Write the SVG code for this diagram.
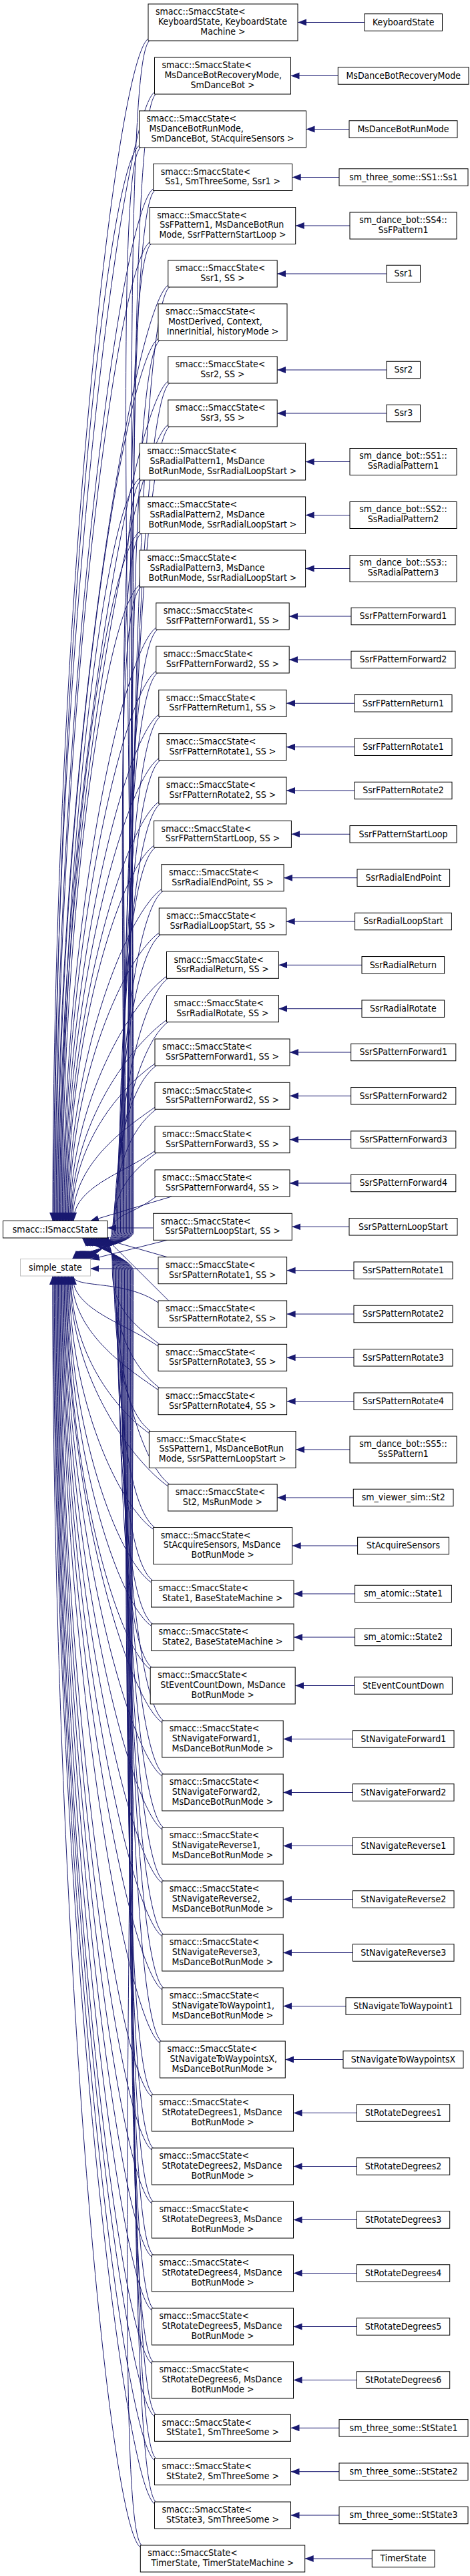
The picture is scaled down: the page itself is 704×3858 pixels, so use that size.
<svg xmlns="http://www.w3.org/2000/svg" width="704" height="3858" viewBox="0 0 704 3858">
<defs>
<style>
rect{fill:#fff;stroke:#000;stroke-width:1}
#simple_state rect{stroke:#bfbfbf}
text{font-family:"DejaVu Sans Condensed","DejaVu Sans",sans-serif;font-size:14px;fill:#000}
.m{text-anchor:middle}
#edges path{fill:none;stroke:#191970;stroke-width:1;marker-end:url(#a)}
</style>
<marker id="a" markerUnits="userSpaceOnUse" markerWidth="14" markerHeight="11" viewBox="0 0 14 11" refX="13" refY="5" orient="auto"><path d="M0,0L13,5L0,10z" fill="#191970"/></marker>
</defs>
<rect x="0" y="0" width="704" height="3858" style="fill:#fff;stroke:none"/>
<g id="edges">
<path d="M546,33.5H446"/><path d="M506.3,113.5H435.5"/><path d="M523,193.5H458.5"/><path d="M508,265.5H437.7"/><path d="M524,338H442.7"/><path d="M579,410H415.2"/><path d="M579,554H415.2"/><path d="M579,619H415.2"/><path d="M524,691.5H457.6"/><path d="M524,771.5H457.6"/><path d="M524,851.5H457.6"/><path d="M526,923H433.2"/><path d="M526,988H433.2"/><path d="M531,1053.3H429"/><path d="M531,1118.7H429"/><path d="M531,1184H429"/><path d="M524,1249.3H436.4"/><path d="M535,1314.7H425.1"/><path d="M531.6,1380H428.7"/><path d="M542,1445.3H417.4"/><path d="M542,1510.7H417.4"/><path d="M525.7,1576H434"/><path d="M525.7,1641.3H434"/><path d="M525.7,1706.7H434"/><path d="M525.7,1772H434"/><path d="M523,1837.3H437.3"/><path d="M530,1902.7H429.6"/><path d="M530,1968H429.6"/><path d="M530,2033.3H429.6"/><path d="M530,2098.7H429.6"/><path d="M524,2171H443"/><path d="M529.3,2243H415.2"/><path d="M535.6,2315H437.7"/><path d="M531.6,2387H440"/><path d="M531.6,2452H440"/><path d="M531,2524.5H442.2"/><path d="M528.4,2604.5H424.2"/><path d="M528.4,2684.5H424.2"/><path d="M528.4,2764.5H424.2"/><path d="M528.4,2844.5H424.2"/><path d="M528.4,2924.5H424.2"/><path d="M518,3004.5H424.2"/><path d="M514,3084.5H427.3"/><path d="M534.3,3164.5H439.5"/><path d="M534.3,3244.5H439.5"/><path d="M534.3,3324.5H439.5"/><path d="M534.3,3404.5H439.5"/><path d="M534.3,3484.5H439.5"/><path d="M534.3,3564.5H439.5"/><path d="M508,3636.3H435.5"/><path d="M508,3701.7H435.5"/><path d="M508,3767H435.5"/><path d="M557.3,3832H456.7"/>
<path d="M222,58C172,93 79,945 79,1828.7"/>
<path d="M231.5,138C181.5,173 80.3,985 80.3,1828.7"/>
<path d="M208.5,218C158.5,253 81.6,1025 81.6,1828.7"/>
<path d="M229.7,282.5C179.7,317.5 82.9,1057 82.9,1828.7"/>
<path d="M224.3,362.5C174.3,397.5 84.2,1097 84.2,1828.7"/>
<path d="M251.8,427C201.8,462 85.5,1129 85.5,1828.7"/>
<path d="M237,507C187,542 86.8,1169 86.8,1828.7"/>
<path d="M251.8,571C201.8,606 88.1,1201 88.1,1828.7"/>
<path d="M251.8,636C201.8,671 89.4,1234 89.4,1828.7"/>
<path d="M209.4,716C159.4,751 90.7,1274 90.7,1828.7"/>
<path d="M209.4,796C159.4,831 92,1314 92,1828.7"/>
<path d="M209.4,876C159.4,911 93.3,1354 93.3,1828.7"/>
<path d="M233.8,940C183.8,975 94.6,1386 94.6,1828.7"/>
<path d="M233.8,1005C183.8,1040 95.9,1418 95.9,1828.7"/>
<path d="M237.8,1070.3C187.8,1105.3 97.2,1451 97.2,1828.7"/>
<path d="M237.8,1135.7C187.8,1170.7 98.5,1484 98.5,1828.7"/>
<path d="M237.8,1201C187.8,1236 99.8,1516 99.8,1828.7"/>
<path d="M230.6,1266.3C180.6,1301.3 101.1,1549 101.1,1828.7"/>
<path d="M241.9,1331.7C191.9,1366.7 102.4,1582 102.4,1828.7"/>
<path d="M238.3,1397C188.3,1432 103.7,1614 103.7,1828.7"/>
<path d="M249.5,1462.3C199.5,1497.3 105,1647 105,1828.7"/>
<path d="M249.5,1527.7C199.5,1562.7 106.3,1680 106.3,1828.7"/>
<path d="M232,1593C182,1628 107.6,1712 107.6,1828.7"/>
<path d="M232,1658.3C182,1693.3 108.9,1745 108.9,1828.7"/>
<path d="M232,1723.7C182,1758.7 110.2,1778 110.2,1828.7"/>
<path d="M257,1792L135,1828.7"/>
<path d="M224,61C184,91 200,953 200,1845C200,1863 120,1874 108,1885.7"/>
<path d="M233.5,141C193.5,171 198.7,993 198.7,1845C198.7,1863 121.1,1874 109.1,1885.7"/>
<path d="M210.5,221C170.5,251 197.4,1033 197.4,1845C197.4,1863 122.1,1874 110.1,1885.7"/>
<path d="M231.7,285.5C191.7,315.5 196.1,1065 196.1,1845C196.1,1863 123.2,1874 111.2,1885.7"/>
<path d="M226.3,365.5C186.3,395.5 194.8,1105 194.8,1845C194.8,1863 124.2,1874 112.2,1885.7"/>
<path d="M253.8,430C213.8,460 193.5,1138 193.5,1845C193.5,1863 125.3,1874 113.3,1885.7"/>
<path d="M239,510C199,540 192.2,1178 192.2,1845C192.2,1863 126.3,1874 114.3,1885.7"/>
<path d="M253.8,574C213.8,604 190.9,1210 190.9,1845C190.9,1863 127.4,1874 115.4,1885.7"/>
<path d="M253.8,639C213.8,669 189.6,1242 189.6,1845C189.6,1863 128.4,1874 116.4,1885.7"/>
<path d="M211.4,719C171.4,749 188.3,1282 188.3,1845C188.3,1863 129.5,1874 117.5,1885.7"/>
<path d="M211.4,799C171.4,829 187,1322 187,1845C187,1863 130.5,1874 118.5,1885.7"/>
<path d="M211.4,879C171.4,909 185.7,1362 185.7,1845C185.7,1863 131.6,1874 119.6,1885.7"/>
<path d="M235.8,943C195.8,973 184.4,1394 184.4,1845C184.4,1863 132.6,1874 120.6,1885.7"/>
<path d="M235.8,1008C195.8,1038 183.1,1427 183.1,1845C183.1,1863 133.7,1874 121.7,1885.7"/>
<path d="M239.8,1073.3C199.8,1103.3 181.8,1459 181.8,1845C181.8,1863 134.7,1874 122.7,1885.7"/>
<path d="M239.8,1138.7C199.8,1168.7 180.5,1492 180.5,1845C180.5,1863 135.8,1874 123.8,1885.7"/>
<path d="M239.8,1204C199.8,1234 179.2,1525 179.2,1845C179.2,1863 136.8,1874 124.8,1885.7"/>
<path d="M232.6,1269.3C192.6,1299.3 177.9,1557 177.9,1845C177.9,1863 137.9,1874 125.9,1885.7"/>
<path d="M243.9,1334.7C203.9,1364.7 176.6,1590 176.6,1845C176.6,1863 138.9,1874 126.9,1885.7"/>
<path d="M240.3,1400C200.3,1430 175.3,1623 175.3,1845C175.3,1863 140,1874 128,1885.7"/>
<path d="M251.5,1465.3C211.5,1495.3 174,1655 174,1845C174,1863 141,1874 129,1885.7"/>
<path d="M251.5,1530.7C211.5,1560.7 172.7,1688 172.7,1845C172.7,1863 142.1,1874 130.1,1885.7"/>
<path d="M234,1596C194,1626 171.4,1721 171.4,1845C171.4,1863 143.1,1874 131.1,1885.7"/>
<path d="M234,1661.3C194,1691.3 170.1,1753 170.1,1845C170.1,1863 144.2,1874 132.2,1885.7"/>
<path d="M234,1726.7C194,1756.7 168.8,1786 168.8,1845C168.8,1863 145.2,1874 133.2,1885.7"/>
<path d="M234,1792C194,1822 167.5,1818 167.5,1845C167.5,1863 146.3,1874 134.3,1885.7"/>
<path d="M229.7,1839H161"/>
<path d="M250.5,1857.3L136,1886"/>
<path d="M250.5,1882.7L150,1854"/>
<path d="M237,1900H135.4"/>
<path d="M237,1951C187,1916 110,1930 110,1911.3"/>
<path d="M237,2016.3C187,1981.3 108.8,1962 108.8,1911.3"/>
<path d="M237,2081.7C187,2046.7 107.5,1995 107.5,1911.3"/>
<path d="M223.4,2146.5C173.4,2111.5 106.3,2027 106.3,1911.3"/>
<path d="M251.8,2226C201.8,2191 105,2067 105,1911.3"/>
<path d="M229.7,2290.5C179.7,2255.5 103.8,2099 103.8,1911.3"/>
<path d="M226.5,2370C176.5,2335 102.5,2139 102.5,1911.3"/>
<path d="M226.5,2435C176.5,2400 101.3,2172 101.3,1911.3"/>
<path d="M225.2,2500C175.2,2465 100,2204 100,1911.3"/>
<path d="M242.8,2580C192.8,2545 98.8,2244 98.8,1911.3"/>
<path d="M242.8,2660C192.8,2625 97.5,2284 97.5,1911.3"/>
<path d="M242.8,2740C192.8,2705 96.3,2324 96.3,1911.3"/>
<path d="M242.8,2820C192.8,2785 95,2364 95,1911.3"/>
<path d="M242.8,2900C192.8,2865 93.8,2404 93.8,1911.3"/>
<path d="M242.8,2980C192.8,2945 92.5,2444 92.5,1911.3"/>
<path d="M239.6,3060C189.6,3025 91.3,2484 91.3,1911.3"/>
<path d="M227.4,3140C177.4,3105 90,2524 90,1911.3"/>
<path d="M227.4,3220C177.4,3185 88.8,2564 88.8,1911.3"/>
<path d="M227.4,3300C177.4,3265 87.5,2604 87.5,1911.3"/>
<path d="M227.4,3380C177.4,3345 86.3,2644 86.3,1911.3"/>
<path d="M227.4,3460C177.4,3425 85,2684 85,1911.3"/>
<path d="M227.4,3540C177.4,3505 83.8,2724 83.8,1911.3"/>
<path d="M231.5,3619.3C181.5,3584.3 82.5,2764 82.5,1911.3"/>
<path d="M231.5,3684.7C181.5,3649.7 81.3,2797 81.3,1911.3"/>
<path d="M231.5,3750C181.5,3715 80,2829 80,1911.3"/>
<path d="M210.3,3815C160.3,3780 78.8,2862 78.8,1911.3"/>
<path d="M252.7,1948L158,1854"/>
<path d="M239,2013.3C199,1983.3 168.3,1958 168.3,1903C168.3,1885 168.6,1866 156.6,1854"/>
<path d="M239,2078.7C199,2048.7 169.6,1991 169.6,1903C169.6,1885 167.2,1866 155.2,1854"/>
<path d="M225.4,2143.5C185.4,2113.5 170.9,2023 170.9,1903C170.9,1885 165.8,1866 153.8,1854"/>
<path d="M253.8,2223C213.8,2193 172.2,2063 172.2,1903C172.2,1885 164.4,1866 152.4,1854"/>
<path d="M231.7,2287.5C191.7,2257.5 173.5,2095 173.5,1903C173.5,1885 163,1866 151,1854"/>
<path d="M228.5,2367C188.5,2337 174.8,2135 174.8,1903C174.8,1885 161.6,1866 149.6,1854"/>
<path d="M228.5,2432C188.5,2402 176.1,2168 176.1,1903C176.1,1885 160.2,1866 148.2,1854"/>
<path d="M227.2,2497C187.2,2467 177.4,2200 177.4,1903C177.4,1885 158.8,1866 146.8,1854"/>
<path d="M244.8,2577C204.8,2547 178.7,2240 178.7,1903C178.7,1885 157.4,1866 145.4,1854"/>
<path d="M244.8,2657C204.8,2627 180,2280 180,1903C180,1885 156,1866 144,1854"/>
<path d="M244.8,2737C204.8,2707 181.3,2320 181.3,1903C181.3,1885 154.6,1866 142.6,1854"/>
<path d="M244.8,2817C204.8,2787 182.6,2360 182.6,1903C182.6,1885 153.2,1866 141.2,1854"/>
<path d="M244.8,2897C204.8,2867 183.9,2400 183.9,1903C183.9,1885 151.8,1866 139.8,1854"/>
<path d="M244.8,2977C204.8,2947 185.2,2440 185.2,1903C185.2,1885 150.4,1866 138.4,1854"/>
<path d="M241.6,3057C201.6,3027 186.5,2480 186.5,1903C186.5,1885 149,1866 137,1854"/>
<path d="M229.4,3137C189.4,3107 187.8,2520 187.8,1903C187.8,1885 147.6,1866 135.6,1854"/>
<path d="M229.4,3217C189.4,3187 189.1,2560 189.1,1903C189.1,1885 146.2,1866 134.2,1854"/>
<path d="M229.4,3297C189.4,3267 190.4,2600 190.4,1903C190.4,1885 144.8,1866 132.8,1854"/>
<path d="M229.4,3377C189.4,3347 191.7,2640 191.7,1903C191.7,1885 143.4,1866 131.4,1854"/>
<path d="M229.4,3457C189.4,3427 193,2680 193,1903C193,1885 142,1866 130,1854"/>
<path d="M229.4,3537C189.4,3507 194.3,2720 194.3,1903C194.3,1885 140.6,1866 128.6,1854"/>
<path d="M233.5,3616.3C193.5,3586.3 195.6,2760 195.6,1903C195.6,1885 139.2,1866 127.2,1854"/>
<path d="M233.5,3681.7C193.5,3651.7 196.9,2792 196.9,1903C196.9,1885 137.8,1866 125.8,1854"/>
<path d="M233.5,3747C193.5,3717 198.2,2825 198.2,1903C198.2,1885 136.4,1866 124.4,1854"/>
<path d="M212.3,3812C172.3,3782 199.5,2858 199.5,1903C199.5,1885 135,1866 123,1854"/>
</g>
<g id="isstate"><rect x="4.5" y="1828.5" width="156.5" height="25.5"/><text class="m" x="82.7" y="1845.8">smacc::ISmaccState</text></g>
<g id="simple_state"><rect x="30.5" y="1885.5" width="105" height="25.5"/><text class="m" x="83" y="1902.8">simple_state</text></g>
<g id="s1"><rect x="222" y="6" width="224" height="55"/><text x="233" y="22.2">smacc::SmaccState&lt;</text><text x="237" y="36.9">KeyboardState, KeyboardState</text><text class="m" x="334" y="51.6">Machine &gt;</text></g>
<g id="s2"><rect x="231.5" y="86" width="204" height="55"/><text x="242.5" y="102.2">smacc::SmaccState&lt;</text><text x="246.5" y="116.9">MsDanceBotRecoveryMode,</text><text class="m" x="333.5" y="131.6">SmDanceBot &gt;</text></g>
<g id="s3"><rect x="208.5" y="166" width="250" height="55"/><text x="219.5" y="182.2">smacc::SmaccState&lt;</text><text x="223.5" y="196.9">MsDanceBotRunMode,</text><text class="m" x="333.5" y="211.6">SmDanceBot, StAcquireSensors &gt;</text></g>
<g id="s4"><rect x="229.7" y="245.5" width="208" height="40"/><text x="240.7" y="261.7">smacc::SmaccState&lt;</text><text class="m" x="333.7" y="276.4">Ss1, SmThreeSome, Ssr1 &gt;</text></g>
<g id="s5"><rect x="224.3" y="310.5" width="218.4" height="55"/><text x="235.3" y="326.7">smacc::SmaccState&lt;</text><text x="239.3" y="341.4">SsFPattern1, MsDanceBotRun</text><text class="m" x="333.5" y="356.1">Mode, SsrFPatternStartLoop &gt;</text></g>
<g id="s6"><rect x="251.8" y="390" width="163.4" height="40"/><text x="262.8" y="406.2">smacc::SmaccState&lt;</text><text class="m" x="333.5" y="420.9">Ssr1, SS &gt;</text></g>
<g id="s7"><rect x="237" y="455" width="193" height="55"/><text x="248" y="471.2">smacc::SmaccState&lt;</text><text x="252" y="485.9">MostDerived, Context,</text><text class="m" x="333.5" y="500.6">InnerInitial, historyMode &gt;</text></g>
<g id="s8"><rect x="251.8" y="534" width="163.4" height="40"/><text x="262.8" y="550.2">smacc::SmaccState&lt;</text><text class="m" x="333.5" y="564.9">Ssr2, SS &gt;</text></g>
<g id="s9"><rect x="251.8" y="599" width="163.4" height="40"/><text x="262.8" y="615.2">smacc::SmaccState&lt;</text><text class="m" x="333.5" y="629.9">Ssr3, SS &gt;</text></g>
<g id="s10"><rect x="209.4" y="664" width="248.2" height="55"/><text x="220.4" y="680.2">smacc::SmaccState&lt;</text><text x="224.4" y="694.9">SsRadialPattern1, MsDance</text><text class="m" x="333.5" y="709.6">BotRunMode, SsrRadialLoopStart &gt;</text></g>
<g id="s11"><rect x="209.4" y="744" width="248.2" height="55"/><text x="220.4" y="760.2">smacc::SmaccState&lt;</text><text x="224.4" y="774.9">SsRadialPattern2, MsDance</text><text class="m" x="333.5" y="789.6">BotRunMode, SsrRadialLoopStart &gt;</text></g>
<g id="s12"><rect x="209.4" y="824" width="248.2" height="55"/><text x="220.4" y="840.2">smacc::SmaccState&lt;</text><text x="224.4" y="854.9">SsRadialPattern3, MsDance</text><text class="m" x="333.5" y="869.6">BotRunMode, SsrRadialLoopStart &gt;</text></g>
<g id="s13"><rect x="233.8" y="903" width="199.4" height="40"/><text x="244.8" y="919.2">smacc::SmaccState&lt;</text><text class="m" x="333.5" y="933.9">SsrFPatternForward1, SS &gt;</text></g>
<g id="s14"><rect x="233.8" y="968" width="199.4" height="40"/><text x="244.8" y="984.2">smacc::SmaccState&lt;</text><text class="m" x="333.5" y="998.9">SsrFPatternForward2, SS &gt;</text></g>
<g id="s15"><rect x="237.8" y="1033.3" width="191.2" height="40"/><text x="248.8" y="1049.5">smacc::SmaccState&lt;</text><text class="m" x="333.4" y="1064.2">SsrFPatternReturn1, SS &gt;</text></g>
<g id="s16"><rect x="237.8" y="1098.7" width="191.2" height="40"/><text x="248.8" y="1114.9">smacc::SmaccState&lt;</text><text class="m" x="333.4" y="1129.6">SsrFPatternRotate1, SS &gt;</text></g>
<g id="s17"><rect x="237.8" y="1164" width="191.2" height="40"/><text x="248.8" y="1180.2">smacc::SmaccState&lt;</text><text class="m" x="333.4" y="1194.9">SsrFPatternRotate2, SS &gt;</text></g>
<g id="s18"><rect x="230.6" y="1229.3" width="205.8" height="40"/><text x="241.6" y="1245.5">smacc::SmaccState&lt;</text><text class="m" x="333.5" y="1260.2">SsrFPatternStartLoop, SS &gt;</text></g>
<g id="s19"><rect x="241.9" y="1294.7" width="183.2" height="40"/><text x="252.9" y="1310.9">smacc::SmaccState&lt;</text><text class="m" x="333.5" y="1325.6">SsrRadialEndPoint, SS &gt;</text></g>
<g id="s20"><rect x="238.3" y="1360" width="190.4" height="40"/><text x="249.3" y="1376.2">smacc::SmaccState&lt;</text><text class="m" x="333.5" y="1390.9">SsrRadialLoopStart, SS &gt;</text></g>
<g id="s21"><rect x="249.5" y="1425.3" width="167.9" height="40"/><text x="260.5" y="1441.5">smacc::SmaccState&lt;</text><text class="m" x="333.5" y="1456.2">SsrRadialReturn, SS &gt;</text></g>
<g id="s22"><rect x="249.5" y="1490.7" width="167.9" height="40"/><text x="260.5" y="1506.9">smacc::SmaccState&lt;</text><text class="m" x="333.5" y="1521.6">SsrRadialRotate, SS &gt;</text></g>
<g id="s23"><rect x="232" y="1556" width="202" height="40"/><text x="243" y="1572.2">smacc::SmaccState&lt;</text><text class="m" x="333" y="1586.9">SsrSPatternForward1, SS &gt;</text></g>
<g id="s24"><rect x="232" y="1621.3" width="202" height="40"/><text x="243" y="1637.5">smacc::SmaccState&lt;</text><text class="m" x="333" y="1652.2">SsrSPatternForward2, SS &gt;</text></g>
<g id="s25"><rect x="232" y="1686.7" width="202" height="40"/><text x="243" y="1702.9">smacc::SmaccState&lt;</text><text class="m" x="333" y="1717.6">SsrSPatternForward3, SS &gt;</text></g>
<g id="s26"><rect x="232" y="1752" width="202" height="40"/><text x="243" y="1768.2">smacc::SmaccState&lt;</text><text class="m" x="333" y="1782.9">SsrSPatternForward4, SS &gt;</text></g>
<g id="s27"><rect x="229.7" y="1817.3" width="207.6" height="40"/><text x="240.7" y="1833.5">smacc::SmaccState&lt;</text><text class="m" x="333.5" y="1848.2">SsrSPatternLoopStart, SS &gt;</text></g>
<g id="s28"><rect x="237" y="1882.7" width="192.6" height="40"/><text x="248" y="1898.9">smacc::SmaccState&lt;</text><text class="m" x="333.3" y="1913.6">SsrSPatternRotate1, SS &gt;</text></g>
<g id="s29"><rect x="237" y="1948" width="192.6" height="40"/><text x="248" y="1964.2">smacc::SmaccState&lt;</text><text class="m" x="333.3" y="1978.9">SsrSPatternRotate2, SS &gt;</text></g>
<g id="s30"><rect x="237" y="2013.3" width="192.6" height="40"/><text x="248" y="2029.5">smacc::SmaccState&lt;</text><text class="m" x="333.3" y="2044.2">SsrSPatternRotate3, SS &gt;</text></g>
<g id="s31"><rect x="237" y="2078.7" width="192.6" height="40"/><text x="248" y="2094.9">smacc::SmaccState&lt;</text><text class="m" x="333.3" y="2109.6">SsrSPatternRotate4, SS &gt;</text></g>
<g id="s32"><rect x="223.4" y="2143.5" width="219.6" height="55"/><text x="234.4" y="2159.7">smacc::SmaccState&lt;</text><text x="238.4" y="2174.4">SsSPattern1, MsDanceBotRun</text><text class="m" x="333.2" y="2189.1">Mode, SsrSPatternLoopStart &gt;</text></g>
<g id="s33"><rect x="251.8" y="2223" width="163.4" height="40"/><text x="262.8" y="2239.2">smacc::SmaccState&lt;</text><text class="m" x="333.5" y="2253.9">St2, MsRunMode &gt;</text></g>
<g id="s34"><rect x="229.7" y="2287.5" width="208" height="55"/><text x="240.7" y="2303.7">smacc::SmaccState&lt;</text><text x="244.7" y="2318.4">StAcquireSensors, MsDance</text><text class="m" x="333.7" y="2333.1">BotRunMode &gt;</text></g>
<g id="s35"><rect x="226.5" y="2367" width="213.5" height="40"/><text x="237.5" y="2383.2">smacc::SmaccState&lt;</text><text class="m" x="333.3" y="2397.9">State1, BaseStateMachine &gt;</text></g>
<g id="s36"><rect x="226.5" y="2432" width="213.5" height="40"/><text x="237.5" y="2448.2">smacc::SmaccState&lt;</text><text class="m" x="333.3" y="2462.9">State2, BaseStateMachine &gt;</text></g>
<g id="s37"><rect x="225.2" y="2497" width="217" height="55"/><text x="236.2" y="2513.2">smacc::SmaccState&lt;</text><text x="240.2" y="2527.9">StEventCountDown, MsDance</text><text class="m" x="333.7" y="2542.6">BotRunMode &gt;</text></g>
<g id="s38"><rect x="242.8" y="2577" width="181.4" height="55"/><text x="253.8" y="2593.2">smacc::SmaccState&lt;</text><text x="257.8" y="2607.9">StNavigateForward1,</text><text class="m" x="333.5" y="2622.6">MsDanceBotRunMode &gt;</text></g>
<g id="s39"><rect x="242.8" y="2657" width="181.4" height="55"/><text x="253.8" y="2673.2">smacc::SmaccState&lt;</text><text x="257.8" y="2687.9">StNavigateForward2,</text><text class="m" x="333.5" y="2702.6">MsDanceBotRunMode &gt;</text></g>
<g id="s40"><rect x="242.8" y="2737" width="181.4" height="55"/><text x="253.8" y="2753.2">smacc::SmaccState&lt;</text><text x="257.8" y="2767.9">StNavigateReverse1,</text><text class="m" x="333.5" y="2782.6">MsDanceBotRunMode &gt;</text></g>
<g id="s41"><rect x="242.8" y="2817" width="181.4" height="55"/><text x="253.8" y="2833.2">smacc::SmaccState&lt;</text><text x="257.8" y="2847.9">StNavigateReverse2,</text><text class="m" x="333.5" y="2862.6">MsDanceBotRunMode &gt;</text></g>
<g id="s42"><rect x="242.8" y="2897" width="181.4" height="55"/><text x="253.8" y="2913.2">smacc::SmaccState&lt;</text><text x="257.8" y="2927.9">StNavigateReverse3,</text><text class="m" x="333.5" y="2942.6">MsDanceBotRunMode &gt;</text></g>
<g id="s43"><rect x="242.8" y="2977" width="181.4" height="55"/><text x="253.8" y="2993.2">smacc::SmaccState&lt;</text><text x="257.8" y="3007.9">StNavigateToWaypoint1,</text><text class="m" x="333.5" y="3022.6">MsDanceBotRunMode &gt;</text></g>
<g id="s44"><rect x="239.6" y="3057" width="187.7" height="55"/><text x="250.6" y="3073.2">smacc::SmaccState&lt;</text><text x="254.6" y="3087.9">StNavigateToWaypointsX,</text><text class="m" x="333.5" y="3102.6">MsDanceBotRunMode &gt;</text></g>
<g id="s45"><rect x="227.4" y="3137" width="212.1" height="55"/><text x="238.4" y="3153.2">smacc::SmaccState&lt;</text><text x="242.4" y="3167.9">StRotateDegrees1, MsDance</text><text class="m" x="333.5" y="3182.6">BotRunMode &gt;</text></g>
<g id="s46"><rect x="227.4" y="3217" width="212.1" height="55"/><text x="238.4" y="3233.2">smacc::SmaccState&lt;</text><text x="242.4" y="3247.9">StRotateDegrees2, MsDance</text><text class="m" x="333.5" y="3262.6">BotRunMode &gt;</text></g>
<g id="s47"><rect x="227.4" y="3297" width="212.1" height="55"/><text x="238.4" y="3313.2">smacc::SmaccState&lt;</text><text x="242.4" y="3327.9">StRotateDegrees3, MsDance</text><text class="m" x="333.5" y="3342.6">BotRunMode &gt;</text></g>
<g id="s48"><rect x="227.4" y="3377" width="212.1" height="55"/><text x="238.4" y="3393.2">smacc::SmaccState&lt;</text><text x="242.4" y="3407.9">StRotateDegrees4, MsDance</text><text class="m" x="333.5" y="3422.6">BotRunMode &gt;</text></g>
<g id="s49"><rect x="227.4" y="3457" width="212.1" height="55"/><text x="238.4" y="3473.2">smacc::SmaccState&lt;</text><text x="242.4" y="3487.9">StRotateDegrees5, MsDance</text><text class="m" x="333.5" y="3502.6">BotRunMode &gt;</text></g>
<g id="s50"><rect x="227.4" y="3537" width="212.1" height="55"/><text x="238.4" y="3553.2">smacc::SmaccState&lt;</text><text x="242.4" y="3567.9">StRotateDegrees6, MsDance</text><text class="m" x="333.5" y="3582.6">BotRunMode &gt;</text></g>
<g id="s51"><rect x="231.5" y="3616.3" width="204" height="40"/><text x="242.5" y="3632.5">smacc::SmaccState&lt;</text><text class="m" x="333.5" y="3647.2">StState1, SmThreeSome &gt;</text></g>
<g id="s52"><rect x="231.5" y="3681.7" width="204" height="40"/><text x="242.5" y="3697.9">smacc::SmaccState&lt;</text><text class="m" x="333.5" y="3712.6">StState2, SmThreeSome &gt;</text></g>
<g id="s53"><rect x="231.5" y="3747" width="204" height="40"/><text x="242.5" y="3763.2">smacc::SmaccState&lt;</text><text class="m" x="333.5" y="3777.9">StState3, SmThreeSome &gt;</text></g>
<g id="s54"><rect x="210.3" y="3812" width="246.4" height="40"/><text x="221.3" y="3828.2">smacc::SmaccState&lt;</text><text class="m" x="333.5" y="3842.9">TimerState, TimerStateMachine &gt;</text></g>
<g id="d1"><rect x="546" y="20.75" width="116.5" height="25.5"/><text class="m" x="604.3" y="37.8">KeyboardState</text></g>
<g id="d2"><rect x="506.3" y="100.75" width="195.7" height="25.5"/><text class="m" x="604.2" y="117.8">MsDanceBotRecoveryMode</text></g>
<g id="d3"><rect x="523" y="180.75" width="162" height="25.5"/><text class="m" x="604" y="197.8">MsDanceBotRunMode</text></g>
<g id="d4"><rect x="508" y="252.75" width="193" height="25.5"/><text class="m" x="604.5" y="269.8">sm_three_some::SS1::Ss1</text></g>
<g id="d5"><rect x="524" y="318" width="160" height="40"/><text class="m" x="604" y="333.8">sm_dance_bot::SS4::</text><text class="m" x="604" y="348.5">SsFPattern1</text></g>
<g id="d6"><rect x="579" y="397.25" width="50.5" height="25.5"/><text class="m" x="604.3" y="414.3">Ssr1</text></g>
<g id="d8"><rect x="579" y="541.25" width="50.5" height="25.5"/><text class="m" x="604.3" y="558.3">Ssr2</text></g>
<g id="d9"><rect x="579" y="606.25" width="50.5" height="25.5"/><text class="m" x="604.3" y="623.3">Ssr3</text></g>
<g id="d10"><rect x="524" y="671.5" width="160" height="40"/><text class="m" x="604" y="687.3">sm_dance_bot::SS1::</text><text class="m" x="604" y="702">SsRadialPattern1</text></g>
<g id="d11"><rect x="524" y="751.5" width="160" height="40"/><text class="m" x="604" y="767.3">sm_dance_bot::SS2::</text><text class="m" x="604" y="782">SsRadialPattern2</text></g>
<g id="d12"><rect x="524" y="831.5" width="160" height="40"/><text class="m" x="604" y="847.3">sm_dance_bot::SS3::</text><text class="m" x="604" y="862">SsRadialPattern3</text></g>
<g id="d13"><rect x="526" y="910.25" width="156" height="25.5"/><text class="m" x="604" y="927.3">SsrFPatternForward1</text></g>
<g id="d14"><rect x="526" y="975.25" width="156" height="25.5"/><text class="m" x="604" y="992.3">SsrFPatternForward2</text></g>
<g id="d15"><rect x="531" y="1040.55" width="146" height="25.5"/><text class="m" x="604" y="1057.6">SsrFPatternReturn1</text></g>
<g id="d16"><rect x="531" y="1105.95" width="146" height="25.5"/><text class="m" x="604" y="1123">SsrFPatternRotate1</text></g>
<g id="d17"><rect x="531" y="1171.25" width="146" height="25.5"/><text class="m" x="604" y="1188.3">SsrFPatternRotate2</text></g>
<g id="d18"><rect x="524" y="1236.55" width="160" height="25.5"/><text class="m" x="604" y="1253.6">SsrFPatternStartLoop</text></g>
<g id="d19"><rect x="535" y="1301.95" width="138.6" height="25.5"/><text class="m" x="604.3" y="1319">SsrRadialEndPoint</text></g>
<g id="d20"><rect x="531.6" y="1367.25" width="144.8" height="25.5"/><text class="m" x="604" y="1384.3">SsrRadialLoopStart</text></g>
<g id="d21"><rect x="542" y="1432.55" width="123.6" height="25.5"/><text class="m" x="603.8" y="1449.6">SsrRadialReturn</text></g>
<g id="d22"><rect x="542" y="1497.95" width="123.6" height="25.5"/><text class="m" x="603.8" y="1515">SsrRadialRotate</text></g>
<g id="d23"><rect x="525.7" y="1563.25" width="157.1" height="25.5"/><text class="m" x="604.3" y="1580.3">SsrSPatternForward1</text></g>
<g id="d24"><rect x="525.7" y="1628.55" width="157.1" height="25.5"/><text class="m" x="604.3" y="1645.6">SsrSPatternForward2</text></g>
<g id="d25"><rect x="525.7" y="1693.95" width="157.1" height="25.5"/><text class="m" x="604.3" y="1711">SsrSPatternForward3</text></g>
<g id="d26"><rect x="525.7" y="1759.25" width="157.1" height="25.5"/><text class="m" x="604.3" y="1776.3">SsrSPatternForward4</text></g>
<g id="d27"><rect x="523" y="1824.55" width="162" height="25.5"/><text class="m" x="604" y="1841.6">SsrSPatternLoopStart</text></g>
<g id="d28"><rect x="530" y="1889.95" width="148" height="25.5"/><text class="m" x="604" y="1907">SsrSPatternRotate1</text></g>
<g id="d29"><rect x="530" y="1955.25" width="148" height="25.5"/><text class="m" x="604" y="1972.3">SsrSPatternRotate2</text></g>
<g id="d30"><rect x="530" y="2020.55" width="148" height="25.5"/><text class="m" x="604" y="2037.6">SsrSPatternRotate3</text></g>
<g id="d31"><rect x="530" y="2085.95" width="148" height="25.5"/><text class="m" x="604" y="2103">SsrSPatternRotate4</text></g>
<g id="d32"><rect x="524" y="2151" width="160" height="40"/><text class="m" x="604" y="2166.8">sm_dance_bot::SS5::</text><text class="m" x="604" y="2181.5">SsSPattern1</text></g>
<g id="d33"><rect x="529.3" y="2230.25" width="149.7" height="25.5"/><text class="m" x="604.2" y="2247.3">sm_viewer_sim::St2</text></g>
<g id="d34"><rect x="535.6" y="2302.25" width="136.8" height="25.5"/><text class="m" x="604" y="2319.3">StAcquireSensors</text></g>
<g id="d35"><rect x="531.6" y="2374.25" width="144.8" height="25.5"/><text class="m" x="604" y="2391.3">sm_atomic::State1</text></g>
<g id="d36"><rect x="531.6" y="2439.25" width="144.8" height="25.5"/><text class="m" x="604" y="2456.3">sm_atomic::State2</text></g>
<g id="d37"><rect x="531" y="2511.75" width="146.4" height="25.5"/><text class="m" x="604.2" y="2528.8">StEventCountDown</text></g>
<g id="d38"><rect x="528.4" y="2591.75" width="151.6" height="25.5"/><text class="m" x="604.2" y="2608.8">StNavigateForward1</text></g>
<g id="d39"><rect x="528.4" y="2671.75" width="151.6" height="25.5"/><text class="m" x="604.2" y="2688.8">StNavigateForward2</text></g>
<g id="d40"><rect x="528.4" y="2751.75" width="151.6" height="25.5"/><text class="m" x="604.2" y="2768.8">StNavigateReverse1</text></g>
<g id="d41"><rect x="528.4" y="2831.75" width="151.6" height="25.5"/><text class="m" x="604.2" y="2848.8">StNavigateReverse2</text></g>
<g id="d42"><rect x="528.4" y="2911.75" width="151.6" height="25.5"/><text class="m" x="604.2" y="2928.8">StNavigateReverse3</text></g>
<g id="d43"><rect x="518" y="2991.75" width="172" height="25.5"/><text class="m" x="604" y="3008.8">StNavigateToWaypoint1</text></g>
<g id="d44"><rect x="514" y="3071.75" width="180" height="25.5"/><text class="m" x="604" y="3088.8">StNavigateToWaypointsX</text></g>
<g id="d45"><rect x="534.3" y="3151.75" width="139.4" height="25.5"/><text class="m" x="604" y="3168.8">StRotateDegrees1</text></g>
<g id="d46"><rect x="534.3" y="3231.75" width="139.4" height="25.5"/><text class="m" x="604" y="3248.8">StRotateDegrees2</text></g>
<g id="d47"><rect x="534.3" y="3311.75" width="139.4" height="25.5"/><text class="m" x="604" y="3328.8">StRotateDegrees3</text></g>
<g id="d48"><rect x="534.3" y="3391.75" width="139.4" height="25.5"/><text class="m" x="604" y="3408.8">StRotateDegrees4</text></g>
<g id="d49"><rect x="534.3" y="3471.75" width="139.4" height="25.5"/><text class="m" x="604" y="3488.8">StRotateDegrees5</text></g>
<g id="d50"><rect x="534.3" y="3551.75" width="139.4" height="25.5"/><text class="m" x="604" y="3568.8">StRotateDegrees6</text></g>
<g id="d51"><rect x="508" y="3623.55" width="193" height="25.5"/><text class="m" x="604.5" y="3640.6">sm_three_some::StState1</text></g>
<g id="d52"><rect x="508" y="3688.95" width="193" height="25.5"/><text class="m" x="604.5" y="3706">sm_three_some::StState2</text></g>
<g id="d53"><rect x="508" y="3754.25" width="193" height="25.5"/><text class="m" x="604.5" y="3771.3">sm_three_some::StState3</text></g>
<g id="d54"><rect x="557.3" y="3819.25" width="93.7" height="25.5"/><text class="m" x="604.2" y="3836.3">TimerState</text></g>
</svg>
